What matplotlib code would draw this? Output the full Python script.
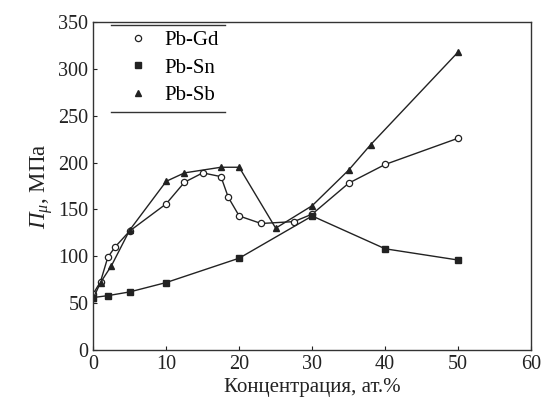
import matplotlib
matplotlib.use('Agg')
from matplotlib import pyplot as plt

plt.rcParams['font.family'] = ['Liberation Serif', 'DejaVu Serif']
plt.rcParams['mathtext.fontset'] = 'custom'
plt.rcParams['mathtext.rm'] = 'Liberation Serif'
plt.rcParams['mathtext.it'] = 'Liberation Serif:italic'

# Pb-Gd (open circles)
gd_x = [0, 1, 2, 3, 5, 10, 12.5, 15, 17.5, 18.5, 20, 23, 27.5, 30, 35, 40, 50]
gd_y = [60, 73, 99, 110, 127, 156, 179, 189, 185, 163, 143, 135, 137, 145, 178, 198, 226]

# Pb-Sn (filled squares)
sn_x = [0, 2, 5, 10, 20, 30, 40, 50]
sn_y = [56, 58, 62, 72, 98, 143, 108, 96]

# Pb-Sb (filled triangles)
sb_x = [0, 1, 2.5, 5, 10, 12.5, 17.5, 20, 25, 30, 35, 38, 50]
sb_y = [55, 72, 90, 128, 180, 189, 195, 195, 130, 154, 192, 219, 318]

fig = plt.figure(figsize=(5.42, 4.07), dpi=100)
ax = fig.add_axes([0.172, 0.140, 0.808, 0.806])

ax.plot(gd_x, gd_y, '-o', color='#222222', lw=1.0, ms=4.5,
        mfc='white', mec='#222222', mew=0.9, label='Pb-Gd')
ax.plot(sn_x, sn_y, '-s', color='#222222', lw=1.0, ms=4.5,
        mfc='#222222', mec='#222222', label='Pb-Sn')
ax.plot(sb_x, sb_y, '-^', color='#222222', lw=1.0, ms=5,
        mfc='#222222', mec='#222222', label='Pb-Sb')

ax.set_xlim(0, 60)
ax.set_ylim(0, 350)
ax.set_xticks(range(0, 61, 10))
ax.set_yticks(range(0, 351, 50))
ax.tick_params(direction='in', length=3, width=0.8, labelsize=14.5, colors='#222222')
for s in ax.spines.values():
    s.set_linewidth(1.0)
    s.set_color('#333333')

ax.set_xlabel('Концентрация, ат.%', fontsize=15, color='#222222', labelpad=3)
ax.set_ylabel(r'$\mathit{П}_{\mu}$, МПа', fontsize=16.5, color='#222222', labelpad=2)

leg = ax.legend(loc='upper left', bbox_to_anchor=(0.05, 1.012), frameon=False,
                fontsize=15, handlelength=1.0, handletextpad=0.75,
                labelspacing=0.38, borderaxespad=0.2)
for h in leg.legend_handles:
    h.set_linestyle('')

# horizontal rules above and below the legend
ax.plot([0.04, 0.30], [0.99, 0.99], transform=ax.transAxes, color='#333333', lw=1.0)
ax.plot([0.04, 0.30], [0.726, 0.726], transform=ax.transAxes, color='#333333', lw=1.0)

fig.savefig('out.png', dpi=100)
